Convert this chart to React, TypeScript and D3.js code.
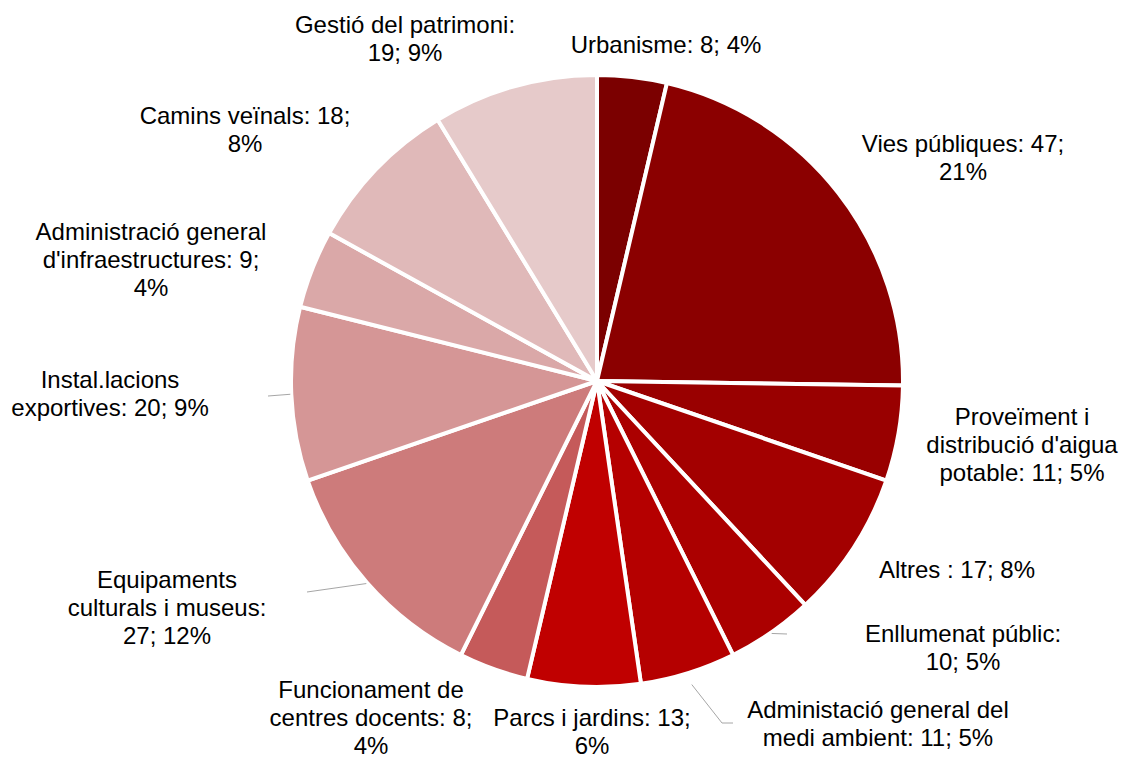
import * as d3 from "d3";

const categories = [
  "Urbanisme",
  "Vies públiques",
  "Proveïment i distribució d'aigua potable",
  "Altres ",
  "Enllumenat públic",
  "Administació general del medi ambient",
  "Parcs i jardins",
  "Funcionament de centres docents",
  "Equipaments culturals i museus",
  "Instal.lacions exportives",
  "Administració general d'infraestructures",
  "Camins veïnals",
  "Gestió del patrimoni",
];
const values = [8, 47, 11, 17, 10, 11, 13, 8, 27, 20, 9, 18, 19];

// how each label is broken into lines, as in the original
const labelLines = [
  ["Urbanisme: 8; 4%"],
  ["Vies públiques: 47;", "21%"],
  ["Proveïment i", "distribució d'aigua", "potable: 11; 5%"],
  ["Altres : 17; 8%"],
  ["Enllumenat públic:", "10; 5%"],
  ["Administació general del", "medi ambient: 11; 5%"],
  ["Parcs i jardins: 13;", "6%"],
  ["Funcionament de", "centres docents: 8;", "4%"],
  ["Equipaments", "culturals i museus:", "27; 12%"],
  ["Instal.lacions", "exportives: 20; 9%"],
  ["Administració general", "d'infraestructures: 9;", "4%"],
  ["Camins veïnals: 18;", "8%"],
  ["Gestió del patrimoni:", "19; 9%"],
];

const colors = [
  "#7b0000", "#8b0000", "#990000", "#a30000", "#ab0000", "#b50000", "#c00000",
  "#c55a5a", "#cd7b7b", "#d59696", "#daa8a8", "#e0b9b9", "#e6caca",
];

// label anchor (middle of first baseline), relative to the pie centre
const labelPos: [number, number][] = [
  [69, -328], [366, -229], [425, 44], [360, 197], [366, 261], [281, 337],
  [-5, 345], [-226, 317], [-430, 207], [-487, 7], [-446, -141], [-352, -257], [-192, -348],
];

// leader lines: start gap beyond the rim, then points relative to centre
const leaders: Record<number, { gap: number; pts: [number, number][] }> = {
  4: { gap: 1, pts: [[190, 253]] },
  5: { gap: 12, pts: [[125, 342], [136, 342]] },
  8: { gap: 1, pts: [[-290, 211]] },
  9: { gap: 1, pts: [[-329, 15]] },
};

export default function App() {
  const width = 1121;
  const height = 758;
  const cx = 597;
  const cy = 381;
  const r = 306;

  const pie = d3.pie<number>().sort(null).value((d) => d);
  const arcs = pie(values);
  const arc = d3.arc<d3.PieArcDatum<number>>().innerRadius(0).outerRadius(r);

  return (
    <svg width={width} height={height} style={{ position: "absolute", left: 0, top: 0 }}>
      <rect width={width} height={height} fill="#ffffff" />
      <g transform={`translate(${cx},${cy})`}>
        {arcs.map((a, i) => (
          <path key={categories[i]} d={arc(a) || ""} fill={colors[i]} stroke="#ffffff" strokeWidth={4} strokeLinejoin="round" />
        ))}
        {arcs.map((a, i) => {
          const ld = leaders[i];
          if (!ld) return null;
          const mid = (a.startAngle + a.endAngle) / 2;
          const rr = r + ld.gap;
          const start: [number, number] = [Math.sin(mid) * rr, -Math.cos(mid) * rr];
          const line = d3.line()([start, ...ld.pts]);
          return <path key={"l" + i} d={line || ""} fill="none" stroke="#a6a6a6" strokeWidth={1} />;
        })}
        {labelLines.map((lines, i) => (
          <text
            key={"t" + i}
            x={labelPos[i][0]}
            y={labelPos[i][1]}
            textAnchor="middle"
            fontFamily="'Liberation Sans', Arial, sans-serif"
            fontSize={24}
            fill="#000000"
          >
            {lines.map((ln, j) => (
              <tspan key={j} x={labelPos[i][0]} dy={j === 0 ? 0 : 28}>
                {ln}
              </tspan>
            ))}
          </text>
        ))}
      </g>
    </svg>
  );
}
